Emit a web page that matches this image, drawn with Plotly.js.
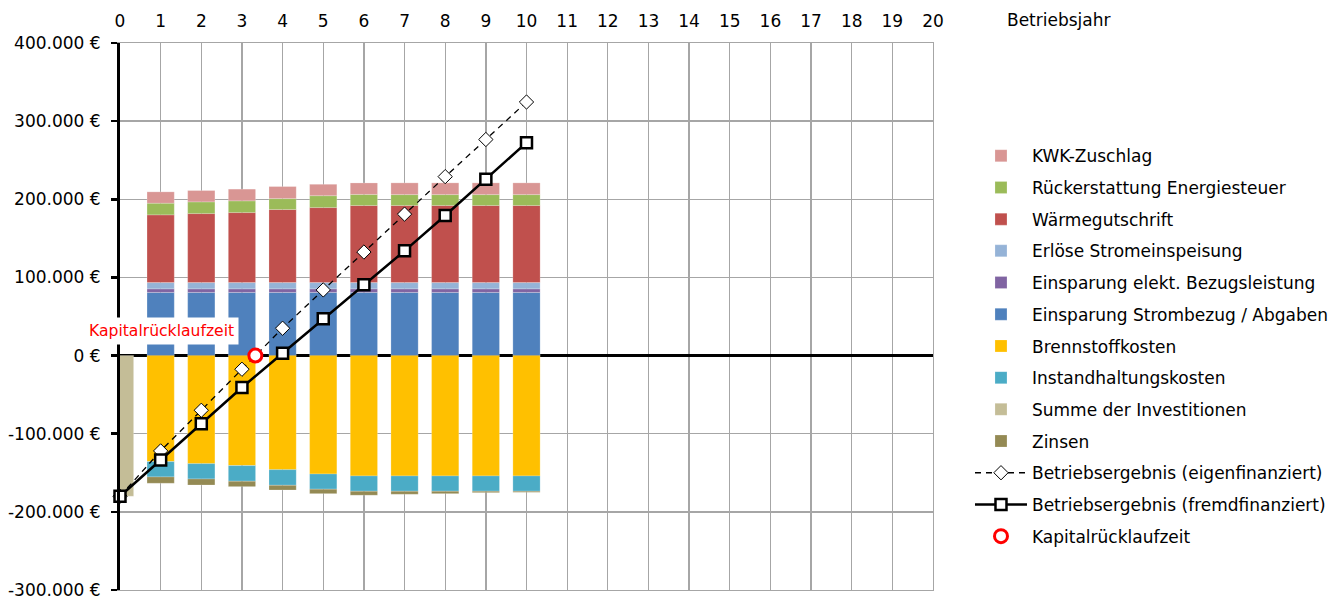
<!DOCTYPE html>
<html>
<head>
<meta charset="utf-8">
<script src="https://cdn.plot.ly/plotly-3.0.1.min.js"></script>
<style>html,body{margin:0;padding:0;background:#fff;}#chart{width:1335px;height:599px;}</style>
</head>
<body>
<div id="chart"></div>
<script>
// ---- data ----
var years = [1, 2, 3, 4, 5, 6, 7, 8, 9, 10];
var lineYears = [0, 1, 2, 3, 4, 5, 6, 7, 8, 9, 10];
var kwkZuschlag = [14500, 14500, 15000, 15400, 14600, 14700, 15000, 15000, 15000, 15000];
var energiesteuer = [14900, 15000, 15000, 14000, 15200, 14200, 14000, 14000, 14000, 14000];
var waermegutschrift = [86700, 88300, 89600, 93500, 96000, 98600, 98600, 98600, 98600, 98600];
var stromeinspeisung = [8000, 8000, 8000, 8000, 8000, 8000, 8000, 8000, 8000, 8000];
var bezugsleistung = [4600, 4600, 4600, 4600, 4600, 4600, 4600, 4600, 4600, 4600];
var strombezug = [80800, 80800, 80800, 80800, 80800, 80800, 80800, 80800, 80800, 80800];
var brennstoff = [-135700, -138300, -140800, -146000, -151500, -154000, -154000, -154000, -154000, -154000];
var instandhaltung = [-19600, -19600, -20000, -20000, -19500, -19600, -19600, -19600, -19600, -19600];
var investYears = [0];
var investitionen = [-180000];
var zinsen = [-8100, -7700, -6900, -6000, -5700, -5100, -3900, -3100, -1800, -1400];
var eigenfinanziert = [-180000, -122000, -70000, -17500, 35000, 84000, 132500, 181000, 229000, 276500, 324500];
var fremdfinanziert = [-180000, -133500, -87400, -40900, 3000, 47000, 90500, 134000, 179300, 225500, 272500];
var paybackYear = [3.33];
var paybackValue = [0];
var xTicks = [0,1,2,3,4,5,6,7,8,9,10,11,12,13,14,15,16,17,18,19,20];
var yTicks = [400000, 300000, 200000, 100000, 0, -100000, -200000, -300000];
var yTickText = ['400.000 €', '300.000 €', '200.000 €', '100.000 €', '0 €', '-100.000 €', '-200.000 €', '-300.000 €'];

var FONT = 'DejaVu Sans, Liberation Sans, Arial, sans-serif';

function bar(name, x, y, color, rank) {
  return {
    type: 'bar', name: name, x: x, y: y,
    marker: {color: color, line: {color: 'rgba(255,255,255,0.35)', width: 0.6}},
    legendgroup: 'g' + rank, legendrank: rank, hoverinfo: 'skip'
  };
}

var traces = [
  bar('Einsparung Strombezug / Abgaben', years, strombezug, '#4f81bd', 6),
  bar('Einsparung elekt. Bezugsleistung', years, bezugsleistung, '#8064a2', 5),
  bar('Erlöse Stromeinspeisung', years, stromeinspeisung, '#95b3d7', 4),
  bar('Wärmegutschrift', years, waermegutschrift, '#c0504d', 3),
  bar('Rückerstattung Energiesteuer', years, energiesteuer, '#9bbb59', 2),
  bar('KWK-Zuschlag', years, kwkZuschlag, '#d99694', 1),
  bar('Brennstoffkosten', years, brennstoff, '#ffc000', 7),
  bar('Instandhaltungskosten', years, instandhaltung, '#4bacc6', 8),
  bar('Summe der Investitionen', investYears, investitionen, '#c4bd97', 9),
  bar('Zinsen', years, zinsen, '#948a54', 10),
  {
    type: 'scatter', mode: 'lines+markers', name: 'Betriebsergebnis (eigenfinanziert)',
    x: lineYears, y: eigenfinanziert, cliponaxis: false,
    line: {color: '#000', width: 1.3, dash: '6px,5px'},
    marker: {symbol: 'diamond', size: 11, color: '#fff', line: {color: '#000', width: 1}},
    legendgroup: 'g11', legendrank: 11, hoverinfo: 'skip'
  },
  {
    type: 'scatter', mode: 'lines+markers', name: 'Betriebsergebnis (fremdfinanziert)',
    x: lineYears, y: fremdfinanziert, cliponaxis: false,
    line: {color: '#000', width: 2.5},
    marker: {symbol: 'square', size: 11, color: '#fff', line: {color: '#000', width: 2.5}},
    legendgroup: 'g12', legendrank: 12, hoverinfo: 'skip'
  },
  {
    type: 'scatter', mode: 'markers', name: 'Kapitalrücklaufzeit',
    x: paybackYear, y: paybackValue, cliponaxis: false,
    marker: {symbol: 'circle', size: 13, color: '#fff', line: {color: '#ff0000', width: 3}},
    legendgroup: 'g13', legendrank: 13, hoverinfo: 'skip'
  },
  {
    type: 'scatter', mode: 'none', x: [0], y: [0], yaxis: 'y2',
    showlegend: false, hoverinfo: 'skip'
  }
];

var layout = {
  width: 1335, height: 599,
  margin: {l: 120, r: 402, t: 43, b: 9, autoexpand: false},
  paper_bgcolor: '#fff', plot_bgcolor: '#fff',
  font: {family: FONT, size: 17, color: '#000'},
  barmode: 'relative', bargap: 0.33,
  showlegend: true,
  legend: {
    x: 1.0455, xanchor: 'left', y: 0.826, yanchor: 'top',
    font: {family: FONT, size: 17, color: '#000'},
    traceorder: 'grouped', tracegroupgap: 6.6, itemwidth: 52,
    bgcolor: 'rgba(0,0,0,0)', borderwidth: 0
  },
  xaxis: {
    side: 'top', range: [0, 20], tickvals: xTicks, ticks: '',
    showgrid: true, gridcolor: '#a6a6a6', gridwidth: 1.3,
    showline: true, linecolor: '#a6a6a6', linewidth: 1.3, mirror: true,
    zeroline: false, ticklabelstandoff: 8,
    tickfont: {family: FONT, size: 17, color: '#000'}, fixedrange: true
  },
  yaxis: {
    range: [-300000, 400000], tickvals: yTicks, ticktext: yTickText,
    ticks: 'outside', ticklen: 6, tickwidth: 2.5, tickcolor: '#000',
    showline: true, linecolor: '#000', linewidth: 3,
    showgrid: true, gridcolor: '#a6a6a6', gridwidth: 1.3,
    zeroline: true, zerolinecolor: '#000', zerolinewidth: 3,
    ticklabelstandoff: 7, ticklabeloverflow: 'allow',
    tickfont: {family: FONT, size: 17, color: '#000'}, fixedrange: true
  },
  yaxis2: {
    overlaying: 'y', side: 'right', range: [-300000, 400000],
    showline: true, linecolor: '#a6a6a6', linewidth: 1.3,
    showgrid: false, zeroline: false, showticklabels: false, ticks: '', fixedrange: true
  },
  annotations: [
    {
      text: 'Betriebsjahr', xref: 'paper', yref: 'paper',
      x: 1.0886, xanchor: 'left', y: 1.042, yanchor: 'middle',
      showarrow: false, font: {family: FONT, size: 17, color: '#000'}
    },
    {
      text: 'Kapitalrücklaufzeit', xref: 'x', yref: 'y',
      x: 2.92, xanchor: 'right', y: 31000, yanchor: 'middle',
      showarrow: false, bgcolor: '#fff', borderpad: 4,
      font: {family: FONT, size: 15.6, color: '#ff0000'}
    }
  ]
};

Plotly.newPlot('chart', traces, layout, {staticPlot: true, displayModeBar: false});
</script>
</body>
</html>
